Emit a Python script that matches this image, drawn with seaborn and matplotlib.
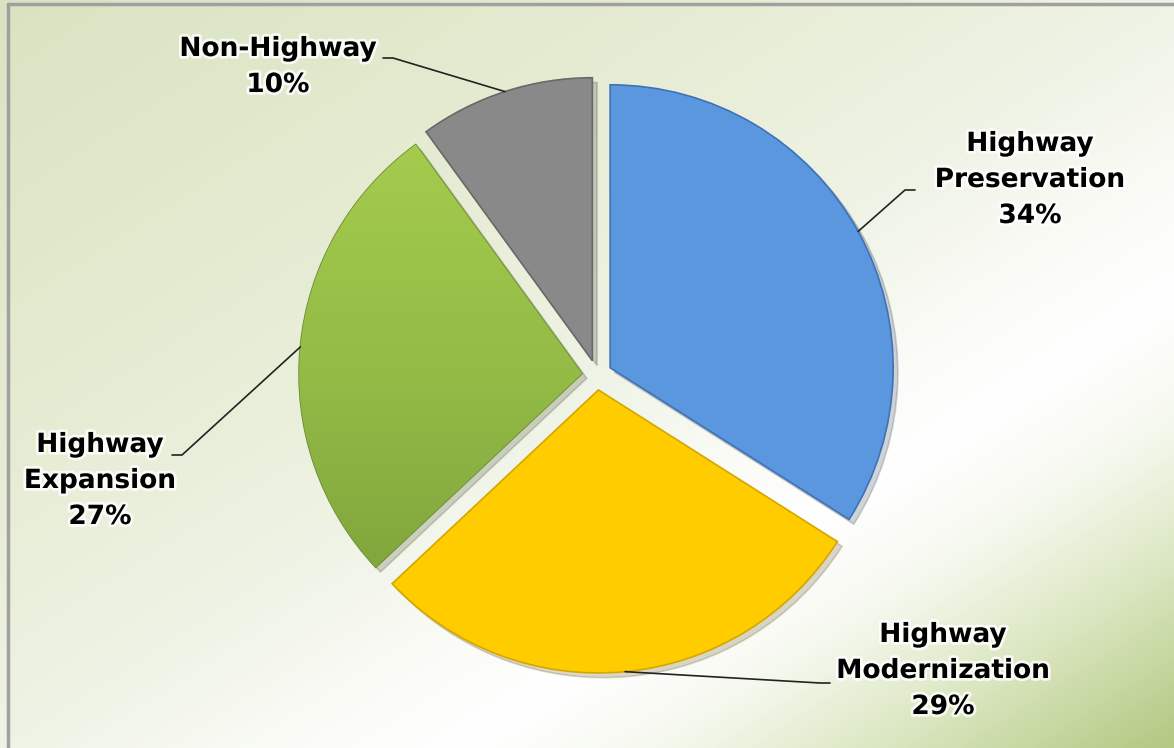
import numpy as np
import matplotlib
matplotlib.use('Agg')
import matplotlib.pyplot as plt
import matplotlib.patheffects as pe
from matplotlib.colors import LinearSegmentedColormap
import seaborn as sns

# data
categories = ["Highway\nPreservation", "Highway\nModernization", "Highway\nExpansion", "Non-Highway"]
shares = [34, 29, 27, 10]
colors = ["#5B97DF", "#FFCC00", "#93BB46", "#898989"]
edge_colors = ["#3F72B5", "#D6A600", "#6A8C2E", "#686868"]

# layout in pixels (figure is 1174 x 748)
W, H = 1174, 748
CX, CY, R = 597, 375, 283
label_px = [(1030, 180), (943, 671), (100, 481), (278, 67)]
elbow_px = [(905, 190), (820, 683), (182, 455), (393, 58)]
end_px = [(915, 190), (830, 683), (172, 455), (383, 58)]


def to_data(p):
    return ((p[0] - CX) / R, (CY - p[1]) / R)


sns.set_theme(style="white")
plt.rcParams['font.family'] = ['DejaVu Sans']

fig = plt.figure(figsize=(W / 100, H / 100), dpi=100)

# background gradient (diagonal, white band through the middle)
bg = fig.add_axes([0, 0, 1, 1], zorder=0)
yy, xx = np.mgrid[0:1:200j, 0:1:300j]
t = 0.5 * (xx + yy)
bg_cmap = LinearSegmentedColormap.from_list(
    'bg', [(0, '#D9E3C1'), (0.3, '#E6ECD3'), (0.5, '#EFF3E5'), (0.63, '#FBFCF8'),
           (0.7, '#FFFFFF'), (0.78, '#F6F9EF'), (0.88, '#DAE6C0'), (1, '#B3C983')])
bg.imshow(t, cmap=bg_cmap, extent=[0, W, H, 0], aspect='auto', interpolation='bilinear')
bg.plot([8, W], [4, 4], color='#A0A0A0', lw=2.5)
bg.plot([8, 8], [4, H], color='#A0A0A0', lw=2.5)
bg.set_xlim(0, W)
bg.set_ylim(H, 0)
bg.axis('off')

# pie
ax = fig.add_axes([0, 0, 1, 1], zorder=1)
ax.patch.set_alpha(0)
wedges, _ = ax.pie(shares, colors=colors, startangle=90, counterclock=False,
                   explode=[0.053] * len(shares), radius=1,
                   wedgeprops=dict(linewidth=1.2),
                   shadow={'ox': 0.012, 'oy': -0.012, 'alpha': 0.2})
for w, ec in zip(wedges, edge_colors):
    w.set_edgecolor(ec)

# vertical gradient on the green slice
green = wedges[2]
gy = np.linspace(1, 0, 100).reshape(-1, 1)
green_cmap = LinearSegmentedColormap.from_list('g', ['#779B38', '#93BB46', '#AAD150'])
im = ax.imshow(gy, cmap=green_cmap, extent=[-1.2, 0.1, -1.1, 1.1], aspect='auto',
               zorder=green.get_zorder() + 0.1)
im.set_clip_path(green)

# labels with leader lines
glow = [pe.withStroke(linewidth=4, foreground='white', alpha=0.8)]
for w, name, pct, lp, el, en in zip(wedges, categories, shares, label_px, elbow_px, end_px):
    theta = np.deg2rad((w.theta1 + w.theta2) / 2)
    cx, cy = w.center
    arc = (cx + w.r * np.cos(theta), cy + w.r * np.sin(theta))
    e1 = to_data(el)
    e2 = to_data(en)
    ax.plot([arc[0], e1[0], e2[0]], [arc[1], e1[1], e2[1]], color='#222222', lw=1.2, zorder=5)
    tx, ty = to_data(lp)
    ax.text(tx, ty, f"{name}\n{pct}%", ha='center', va='center', fontsize=19,
            fontweight='bold', color='black', linespacing=1.5, path_effects=glow, zorder=6)

ax.set_xlim(-CX / R, (W - CX) / R)
ax.set_ylim((CY - H) / R, CY / R)
ax.set_aspect('auto')
ax.axis('off')

fig.savefig('out.png', dpi=100)
